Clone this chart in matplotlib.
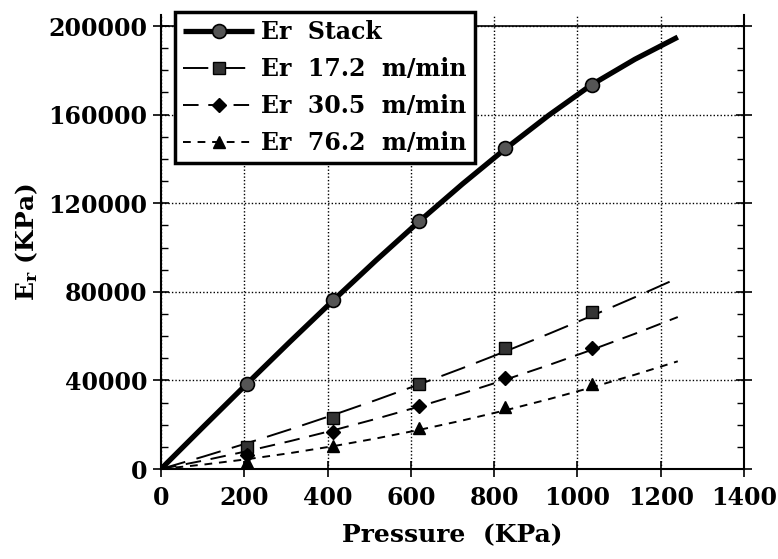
import matplotlib
matplotlib.use("Agg")
import matplotlib.pyplot as plt
from matplotlib.ticker import MultipleLocator

plt.rcParams['font.family'] = ['DejaVu Serif']
plt.rcParams['font.weight'] = 'bold'
plt.rcParams['mathtext.default'] = 'regular'

# pressure steps of the fitted curves (KPa)
pressure = [0, 103, 207, 310, 414, 517, 620, 724, 827, 931, 1034, 1138, 1241]
stack = [0, 19300, 38600, 57500, 76200, 94300, 111800, 128700, 144600, 159700, 173500, 185000, 195000]
fit_172 = [0, 5670, 11670, 17880, 24420, 31170, 38190, 45550, 53110, 61010, 69110, 77560, 86200]
fit_305 = [0, 3840, 8070, 12580, 17480, 22670, 28200, 34120, 40320, 46910, 53790, 61060, 68610]
fit_762 = [0, 2020, 4420, 7170, 10320, 13810, 17660, 21920, 26500, 31510, 36830, 42570, 48630]

# measured points
p_meas = [207, 414, 620, 827, 1034]
stack_meas = [38600, 76200, 112000, 145000, 173500]
meas_172 = [10000, 23000, 38200, 54700, 70900]
meas_305 = [6500, 16700, 28300, 41200, 54500]
meas_762 = [3000, 10400, 18500, 28000, 38300]

labels = ['Er  Stack', 'Er  17.2  m/min', 'Er  30.5  m/min', 'Er  76.2  m/min']

fig = plt.figure(figsize=(7.78, 5.59), dpi=100)
ax = fig.add_axes([0.2069, 0.161, 0.7494, 0.8122])

l0, = ax.plot(pressure, stack, color='black', lw=3.8, solid_capstyle='butt')
m0, = ax.plot(p_meas, stack_meas, ls='none', marker='o', ms=10, mfc='#555555', mec='black', mew=1.2)
l1, = ax.plot(pressure, fit_172, color='black', lw=1.4, dashes=(13, 6))
m1, = ax.plot(p_meas, meas_172, ls='none', marker='s', ms=9, mfc='#333333', mec='black')
l2, = ax.plot(pressure, fit_305, color='black', lw=1.4, dashes=(8, 5))
m2, = ax.plot(p_meas, meas_305, ls='none', marker='D', ms=7.5, mfc='black', mec='black')
l3, = ax.plot(pressure, fit_762, color='black', lw=1.4, dashes=(4, 3.5))
m3, = ax.plot(p_meas, meas_762, ls='none', marker='^', ms=9, mfc='black', mec='black')

ax.set_xlim(0, 1400)
ax.set_ylim(0, 205000)
ax.xaxis.set_major_locator(MultipleLocator(200))
ax.yaxis.set_major_locator(MultipleLocator(40000))
ax.yaxis.set_minor_locator(MultipleLocator(10000))
ax.grid(True, which='major', color='black', ls=(0, (1, 1.5)), lw=1.0)
ax.axhline(200000, color='black', lw=1.2)

ax.spines['top'].set_visible(False)
for s in ['left', 'right', 'bottom']:
    ax.spines[s].set_linewidth(1.5)
ax.tick_params(axis='both', which='major', direction='inout', length=12, width=1.2,
               labelsize=17, right=True)
ax.tick_params(axis='y', which='minor', direction='in', length=5, width=1.0, right=True)
ax.tick_params(axis='y', which='major', pad=4)
ax.tick_params(axis='x', which='major', pad=6)

ax.set_xlabel('Pressure  (KPa)', fontsize=18, fontweight='bold', labelpad=10)
ax.set_ylabel('E$_r$ (KPa)', fontsize=18, fontweight='bold', labelpad=6)

leg = ax.legend([(l0, m0), (l1, m1), (l2, m2), (l3, m3)], labels,
                loc='upper left', bbox_to_anchor=(0.024, 1.007), borderaxespad=0,
                fontsize=17, handlelength=3.0, handletextpad=0.3, labelspacing=0.55,
                borderpad=0.35, fancybox=False, framealpha=1, edgecolor='black')
leg.get_frame().set_linewidth(2.5)

fig.savefig('out.png', dpi=100)
